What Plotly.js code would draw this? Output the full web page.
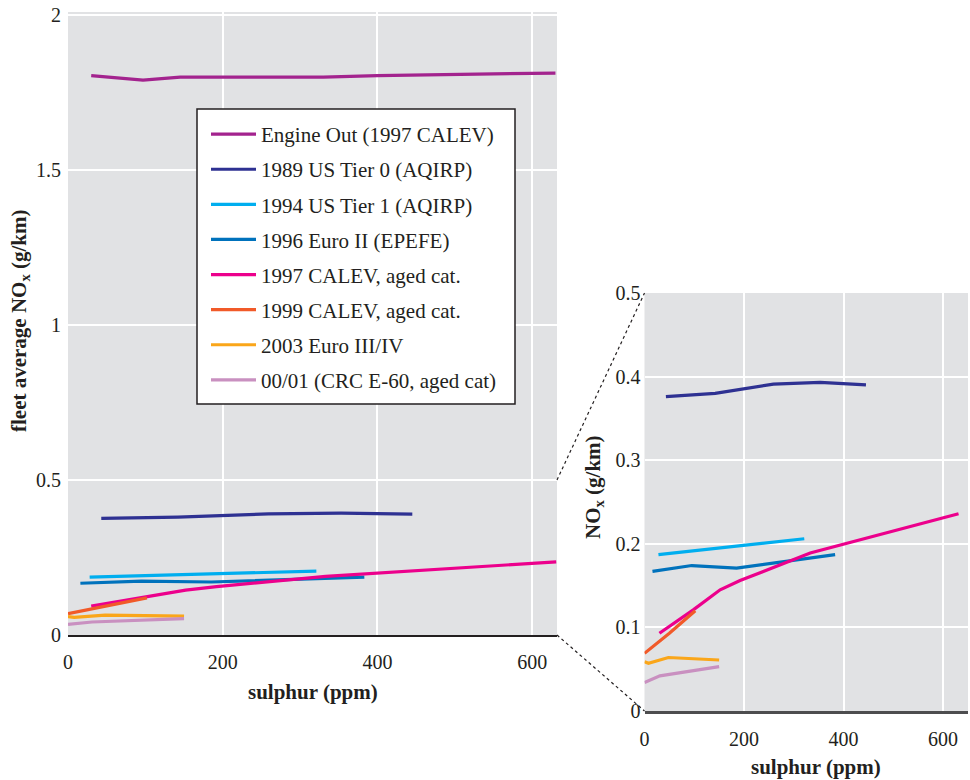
<!DOCTYPE html>
<html>
<head>
<meta charset="utf-8">
<script src="https://cdn.plot.ly/plotly-3.0.1.min.js"></script>
<style>html,body{margin:0;padding:0;background:#fff;}#chart{width:970px;height:780px;}</style>
</head>
<body>
<div id="chart"></div>
<script>
// ---- data ----
const seriesNames = [
  "Engine Out (1997 CALEV)",
  "1989 US Tier 0 (AQIRP)",
  "1994 US Tier 1 (AQIRP)",
  "1996 Euro II (EPEFE)",
  "1997 CALEV, aged cat.",
  "1999 CALEV, aged cat.",
  "2003 Euro III/IV",
  "00/01 (CRC E-60, aged cat)"
];
const engineOutX = [30, 97, 145, 330, 400, 630];
const engineOutY = [1.805, 1.790, 1.800, 1.800, 1.805, 1.813];
const tier0X = [43, 142, 259, 353, 445];
const tier0Y = [0.376, 0.380, 0.391, 0.393, 0.390];
const tier1X = [28, 190, 321];
const tier1Y = [0.187, 0.198, 0.206];
const euro2X = [16, 95, 185, 293, 383];
const euro2Y = [0.167, 0.174, 0.171, 0.180, 0.187];
const calev97X = [30, 98, 152, 192, 333, 631];
const calev97Y = [0.093, 0.121, 0.145, 0.156, 0.189, 0.236];
const calev99X = [0, 50, 102];
const calev99Y = [0.069, 0.093, 0.120];
const euro34X = [0, 8, 48, 150];
const euro34Y = [0.059, 0.057, 0.064, 0.061];
const crcX = [0, 31, 150];
const crcY = [0.034, 0.042, 0.053];

const seriesX = [engineOutX, tier0X, tier1X, euro2X, calev97X, calev99X, euro34X, crcX];
const seriesY = [engineOutY, tier0Y, tier1Y, euro2Y, calev97Y, calev99Y, euro34Y, crcY];
const seriesColors = ["#a3238e", "#2e3192", "#00aeef", "#0072bc", "#ec008c", "#f15a29", "#faa61a", "#c990c0"];

const mainXTicks = [0, 200, 400, 600];
const mainYTicks = [0, 0.5, 1, 1.5, 2];
const insetYTicks = [0, 0.1, 0.2, 0.3, 0.4, 0.5];

// ---- geometry (pixels in a 970x780 page) ----
const W = 970, H = 780;
const px = v => v / W, py = v => 1 - v / H;
const main = {l: 68, r: 557, t: 12, b: 635};
const ins = {l: 644.5, r: 968, t: 293, b: 711};
const legBox = {l: 197, r: 515, t: 109, b: 404};

const FONT = "Liberation Serif, Times New Roman, serif";
const traces = [];
seriesNames.forEach((name, i) => {
  traces.push({
    x: seriesX[i], y: seriesY[i], name: name, type: "scatter", mode: "lines",
    line: {color: seriesColors[i], width: 3.2}, legendgroup: "g" + i,
    xaxis: "x", yaxis: "y", hoverinfo: "x+y+name"
  });
  traces.push({
    x: seriesX[i], y: seriesY[i], name: name, type: "scatter", mode: "lines",
    line: {color: seriesColors[i], width: 3.2}, legendgroup: "g" + i, showlegend: false,
    xaxis: "x2", yaxis: "y2", hoverinfo: "x+y+name"
  });
});

const tickFont = {family: FONT, size: 20, color: "#231f20"};
const titleFont = {family: FONT, size: 21, color: "#231f20"};

const layout = {
  width: W, height: H,
  margin: {l: 0, r: 0, t: 0, b: 0},
  paper_bgcolor: "#ffffff",
  plot_bgcolor: "#e1e2e4",
  font: {family: FONT, color: "#231f20"},
  showlegend: true,
  legend: {
    x: px(206), y: py(114), xanchor: "left", yanchor: "top",
    bgcolor: "rgba(0,0,0,0)", borderwidth: 0,
    font: {family: FONT, size: 21, color: "#231f20"},
    tracegroupgap: 4.8, itemwidth: 45
  },
  xaxis: {
    domain: [px(main.l), px(main.r)], range: [0, 632],
    tickvals: mainXTicks, ticks: "", showgrid: true, gridcolor: "#ffffff", gridwidth: 1.5,
    zeroline: false, showline: true, linecolor: "#231f20", linewidth: 1.5,
    tickfont: tickFont, ticklabelstandoff: 8, anchor: "y", fixedrange: true
  },
  yaxis: {
    domain: [py(main.b), py(main.t)], range: [0, 2.01],
    tickvals: mainYTicks, ticks: "", showgrid: true, gridcolor: "#ffffff", gridwidth: 1.5,
    zeroline: false, showline: false, tickfont: tickFont, ticklabelstandoff: 6,
    anchor: "x", fixedrange: true
  },
  xaxis2: {
    domain: [px(ins.l), px(ins.r)], range: [0, 650],
    tickvals: mainXTicks, ticks: "", showgrid: true, gridcolor: "#ffffff", gridwidth: 1.5,
    zeroline: false, showline: true, linecolor: "#4d4d4f", linewidth: 2.5,
    tickfont: tickFont, ticklabelstandoff: 8, anchor: "y2", fixedrange: true
  },
  yaxis2: {
    domain: [py(ins.b), py(ins.t)], range: [0, 0.5],
    tickvals: insetYTicks, ticks: "", showgrid: true, gridcolor: "#ffffff", gridwidth: 1.5,
    zeroline: false, showline: false, tickfont: tickFont, ticklabelstandoff: 3,
    anchor: "x2", fixedrange: true
  },
  shapes: [
    {type: "line", xref: "paper", yref: "paper", x0: px(main.r), y0: py(480), x1: px(ins.l), y1: py(ins.t),
     line: {color: "#231f20", width: 1.2, dash: "dot"}},
    {type: "line", xref: "paper", yref: "paper", x0: px(main.r), y0: py(main.b), x1: px(ins.l), y1: py(ins.b),
     line: {color: "#231f20", width: 1.2, dash: "dot"}},
    {type: "rect", xref: "paper", yref: "paper", layer: "above",
     x0: px(legBox.l), x1: px(legBox.r), y0: py(legBox.b), y1: py(legBox.t),
     fillcolor: "#ffffff", line: {color: "#231f20", width: 1.5}}
  ],
  annotations: [
    {text: "<b>sulphur (ppm)</b>", xref: "paper", yref: "paper", x: px((main.l + main.r) / 2), y: py(692),
     xanchor: "center", yanchor: "middle", showarrow: false, font: titleFont},
    {text: "<b>sulphur (ppm)</b>", xref: "paper", yref: "paper", x: px(816), y: py(767),
     xanchor: "center", yanchor: "middle", showarrow: false, font: titleFont},
    {text: "<b>fleet average NO<sub>x</sub> (g/km)</b>", xref: "paper", yref: "paper", x: px(20), y: py(321),
     xanchor: "center", yanchor: "middle", textangle: -90, showarrow: false, font: titleFont},
    {text: "<b>NO<sub>x</sub> (g/km)</b>", xref: "paper", yref: "paper", x: px(594), y: py(487),
     xanchor: "center", yanchor: "middle", textangle: -90, showarrow: false, font: titleFont}
  ]
};

Plotly.newPlot("chart", traces, layout, {displayModeBar: false});
</script>
</body>
</html>
